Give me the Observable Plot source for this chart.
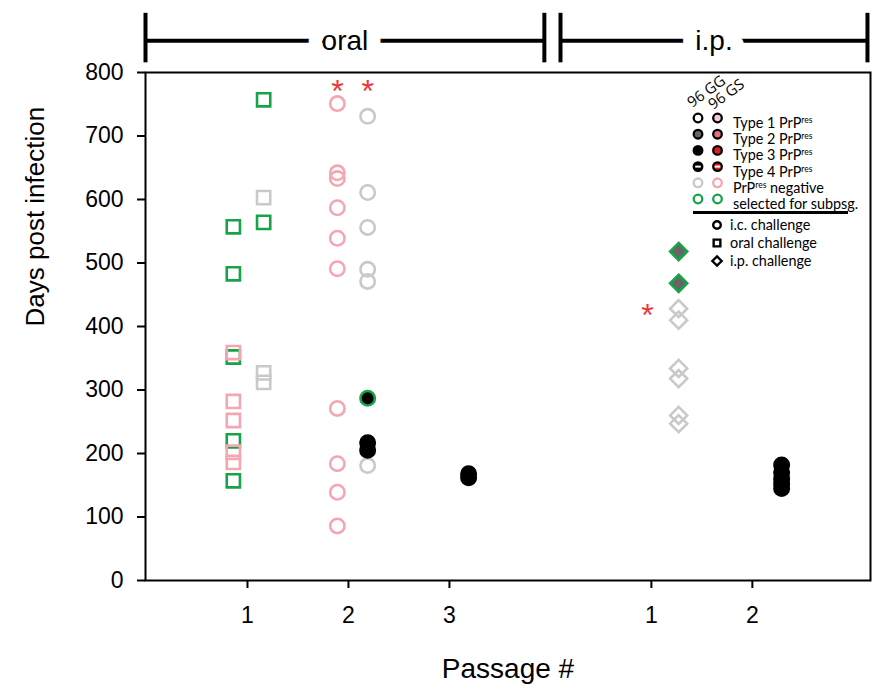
<!DOCTYPE html>
<html>
<head>
<meta charset="utf-8">
<script src="https://cdn.jsdelivr.net/npm/d3@7"></script>
<script src="https://cdn.jsdelivr.net/npm/@observablehq/plot@0.6"></script>
<style>
  html, body { margin: 0; padding: 0; background: white; }
</style>
</head>
<body>
<div id="chart"></div>
<script>
// ---- tick labels ----
const xTicks = [1, 2, 3, 5, 6];
const xTickLabels = ["1", "2", "3", "1", "2"];
const yTicks = [0, 100, 200, 300, 400, 500, 600, 700, 800];

// ---- data (days post infection) ----
// oral passage 1
const oral1GSSelected = [557, 483, 352, 220, 157];
const oral1GSNegative = [359, 282, 252, 202, 186];
const oral1GGSelected = [757, 564];
const oral1GGNegative = [603, 327, 312];
// oral passage 2
const oral2GSNegative = [751, 642, 633, 587, 539, 491, 271, 184, 139, 86];
const oral2GGNegative = [731, 611, 556, 490, 471, 181];
const oral2GGType3 = [217, 205];
const oral2GGType3Selected = [287];
// oral passage 3
const oral3GGType3 = [168, 162];
// i.p. passage 1
const ip1GGNegative = [428, 410, 334, 318, 260, 247];
const ip1GGType2Selected = [518, 468];
// i.p. passage 2
const ip2GGType3 = [182, 170, 160, 152, 145];

// asterisks
const asteriskX = [1.89, 2.19, 4.96];
const asteriskY = [782, 782, 430];

// brackets
const bracketLabels = ["oral", "i.p."];
const bracketStart = [-0.01, 4.10];
const bracketEnd = [3.94, 7.14];

// ---- series definitions (column position, shape, status) ----
const series = [
  {days: oral1GSSelected, x: 0.86, shape: "square", status: "selected"},
  {days: oral1GSNegative, x: 0.86, shape: "square", status: "negGS"},
  {days: oral1GGNegative, x: 1.16, shape: "square", status: "negGG"},
  {days: oral1GGSelected, x: 1.16, shape: "square", status: "selected"},
  {days: oral2GSNegative, x: 1.89, shape: "circle", status: "negGS"},
  {days: oral2GGNegative, x: 2.19, shape: "circle", status: "negGG"},
  {days: oral2GGType3, x: 2.19, shape: "circle", status: "type3"},
  {days: oral2GGType3Selected, x: 2.19, shape: "circle", status: "type3sel"},
  {days: oral3GGType3, x: 3.19, shape: "circle", status: "type3"},
  {days: ip1GGNegative, x: 5.27, shape: "diamond2", status: "negGG"},
  {days: ip1GGType2Selected, x: 5.27, shape: "diamond2", status: "type2sel"},
  {days: ip2GGType3, x: 6.29, shape: "circle", status: "type3"}
];

const PINK = "#f4a7b2", GRAY = "#c9c9c9", GREEN = "#17a34a", RED = "#ee3535";
const statusStyle = {
  selected: {stroke: GREEN, fill: "none"},
  negGS: {stroke: PINK, fill: "none"},
  negGG: {stroke: GRAY, fill: "none"},
  type3: {stroke: "black", fill: "black"},
  type3sel: {stroke: GREEN, fill: "black"},
  type2sel: {stroke: GREEN, fill: "#666666"}
};
const shapeR = {circle: 7.2, square: 7.45, diamond2: 7.7};

const dotMarks = series.map(s => Plot.dot(
  s.days.map(d => ({x: s.x, y: d})),
  {x: "x", y: "y", symbol: () => s.shape, r: shapeR[s.shape],
   stroke: statusStyle[s.status].stroke, fill: statusStyle[s.status].fill,
   strokeWidth: 2.6}
));

const brackets = bracketLabels.map((label, i) => ({label, x1: bracketStart[i], x2: bracketEnd[i], mid: (bracketStart[i] + bracketEnd[i]) / 2}));
const capLevels = {top: 894, bottom: 816, line: 850};
const caps = brackets.flatMap(b => [b.x1, b.x2]);

const plot = Plot.plot({
  width: 873,
  height: 695,
  marginLeft: 145,
  marginRight: 3,
  marginTop: 72,
  marginBottom: 115,
  style: {fontFamily: "'Liberation Sans', Arial, sans-serif", background: "white", color: "black"},
  x: {domain: [-0.01, 7.17]},
  y: {domain: [0, 800]},
  marks: [
    Plot.frame({stroke: "black", strokeWidth: 2}),
    Plot.axisY({ticks: yTicks, tickSize: 8, tickPadding: 14, fontSize: 23, strokeWidth: 2, label: null}),
    Plot.axisX({ticks: xTicks, tickFormat: (d) => xTickLabels[xTicks.indexOf(d)], tickSize: 8, tickPadding: 18, fontSize: 23, strokeWidth: 2, label: null}),
    Plot.text(["Days post infection"], {frameAnchor: "left", rotate: -90, dx: -110, fontSize: 26, fill: "black"}),
    Plot.text(["Passage #"], {frameAnchor: "bottom", dy: 97, fontSize: 28, fill: "black"}),
    // brackets
    Plot.link(brackets, {x1: "x1", x2: "x2", y1: capLevels.line, y2: capLevels.line, stroke: "black", strokeWidth: 4}),
    Plot.link(caps, {x1: d => d, x2: d => d, y1: capLevels.top, y2: capLevels.bottom, stroke: "black", strokeWidth: 4}),
    Plot.text(brackets, {x: "mid", y: capLevels.line, text: "label", fontSize: 28, fill: "black", stroke: "white", strokeWidth: 28}),
    ...dotMarks,
    Plot.text(asteriskX.map((x, i) => ({x, y: asteriskY[i]})), {x: "x", y: "y", text: () => "*", fontSize: 32, fill: RED, dy: 8})
  ]
});

document.getElementById("chart").appendChild(plot);

// ---- legend ----
const legendRows = [
  {parts: [["Type 1 PrP"], ["res", true]], gg: {fill: "white", stroke: "black"}, gs: {fill: "#f6cbd1", stroke: "black"}},
  {parts: [["Type 2 PrP"], ["res", true]], gg: {fill: "#666666", stroke: "black"}, gs: {fill: "#e8707c", stroke: "black"}},
  {parts: [["Type 3 PrP"], ["res", true]], gg: {fill: "black", stroke: "black"}, gs: {fill: "#e51c23", stroke: "black"}},
  {parts: [["Type 4 PrP"], ["res", true]], gg: {fill: "black", stroke: "black", bar: true}, gs: {fill: "#e51c23", stroke: "black", bar: true}},
  {parts: [["PrP"], ["res", true], [" negative"]], gg: {fill: "white", stroke: GRAY}, gs: {fill: "white", stroke: PINK}},
  {parts: [["selected for subpsg."]], gg: {fill: "white", stroke: GREEN}, gs: {fill: "white", stroke: GREEN}}
];
const legendShapes = [
  {label: "i.c. challenge", symbol: d3.symbolCircle},
  {label: "oral challenge", symbol: d3.symbolSquare},
  {label: "i.p. challenge", symbol: d3.symbolDiamond2}
];

const FS = 14.4;
const svg = d3.select(plot);
const lg = svg.append("g")
  .attr("font-family", "Lato, 'Open Sans', sans-serif")
  .attr("fill", "black")
  .attr("text-anchor", "start")
  .style("text-anchor", "start");

lg.append("text").attr("transform", "translate(692,108) rotate(-36)").attr("font-family", "'Open Sans', sans-serif").attr("font-size", 15).attr("text-anchor", "start").text("96 GG");
lg.append("text").attr("transform", "translate(713,110) rotate(-36)").attr("font-family", "'Open Sans', sans-serif").attr("font-size", 15).attr("text-anchor", "start").text("96 GS");

legendRows.forEach((row, i) => {
  const cy = 118 + i * 16.2;
  [[698, row.gg], [717.5, row.gs]].forEach(([cx, st]) => {
    lg.append("circle").attr("cx", cx).attr("cy", cy).attr("r", 4.3)
      .attr("fill", st.fill).attr("stroke", st.stroke).attr("stroke-width", 2.3);
    if (st.bar) {
      lg.append("rect").attr("x", cx - 2.8).attr("y", cy - 1).attr("width", 5.6).attr("height", 2).attr("fill", "white");
    }
  });
  const t = lg.append("text").attr("x", 733).attr("y", cy + 5).attr("font-size", FS).attr("text-anchor", "start");
  row.parts.forEach(([s, sup]) => {
    if (sup) t.append("tspan").attr("font-size", 8.5).attr("dy", -5).text(s);
    else t.append("tspan").attr("font-size", FS).attr("dy", t.node().childNodes.length ? 5 : 0).text(s);
  });
});

lg.append("line").attr("x1", 693).attr("x2", 848).attr("y1", 212.5).attr("y2", 212.5)
  .attr("stroke", "black").attr("stroke-width", 3);

legendShapes.forEach((s, i) => {
  const cy = 225 + i * 18;
  const size = s.symbol === d3.symbolDiamond2 ? 55 : 45;
  lg.append("path").attr("transform", `translate(717,${cy})`)
    .attr("d", d3.symbol(s.symbol, size)())
    .attr("fill", "white").attr("stroke", "black").attr("stroke-width", 2.4);
  lg.append("text").attr("x", 730).attr("y", cy + 5).attr("font-size", FS).attr("text-anchor", "start").text(s.label);
});
</script>
</body>
</html>
